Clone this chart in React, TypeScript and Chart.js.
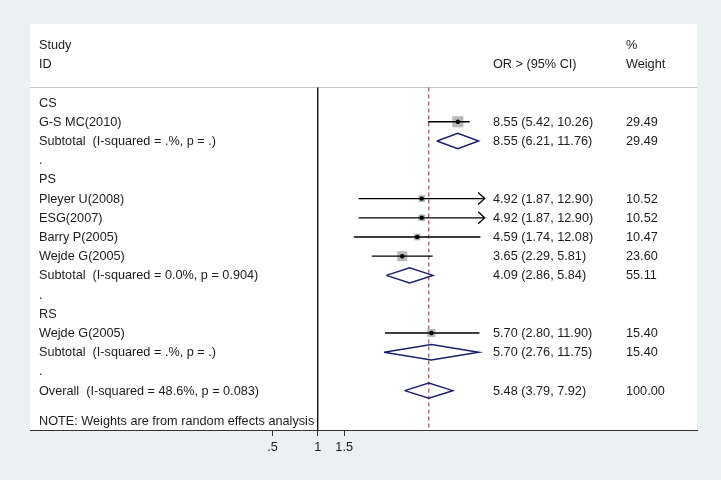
import { useEffect, useRef } from "react";
import { Chart, registerables } from "chart.js";

Chart.register(...registerables);

// ---- data ----
const rowLabels = [
  "CS",
  "G-S MC(2010)",
  "Subtotal  (I-squared = .%, p = .)",
  ".",
  "PS",
  "Pleyer U(2008)",
  "ESG(2007)",
  "Barry P(2005)",
  "Wejde G(2005)",
  "Subtotal  (I-squared = 0.0%, p = 0.904)",
  ".",
  "RS",
  "Wejde G(2005)",
  "Subtotal  (I-squared = .%, p = .)",
  ".",
  "Overall  (I-squared = 48.6%, p = 0.083)",
];

const studyRows = [1, 5, 6, 7, 8, 12];
const studyOR = [8.55, 4.92, 4.92, 4.59, 3.65, 5.7];
const studyLo = [5.42, 1.87, 1.87, 1.74, 2.29, 2.8];
const studyHi = [10.26, 12.9, 12.9, 12.08, 5.81, 11.9];
const studyWeight = [29.49, 10.52, 10.52, 10.47, 23.6, 15.4];

const poolRows = [2, 9, 13, 15];
const poolOR = [8.55, 4.09, 5.7, 5.48];
const poolLo = [6.21, 2.86, 2.76, 3.79];
const poolHi = [11.76, 5.84, 11.75, 7.92];
const poolWeight = [29.49, 55.11, 15.4, 100.0];

const overallOR = 5.48;
const arrowCutoff = 12.5;

const tickValues = [0.5, 1, 1.5];
const tickLabels = [".5", "1", "1.5"];

const headerLeft = ["Study", "ID"];
const headerEst = "OR > (95% CI)";
const headerWeight = ["%", "Weight"];
const noteText = "NOTE: Weights are from random effects analysis";

// ---- styles ----
const FAMILY = '"Liberation Sans", Arial, Helvetica, sans-serif';
const FONT = "12.7px " + FAMILY;
const TEXT = "#1c1c1c";
const NAVY = "#1e1e6e";
const BG = "#e9f1f3";

const fmt = (v: number) => v.toFixed(2);

export default function App() {
  const ref = useRef<HTMLCanvasElement | null>(null);

  useEffect(() => {
    const canvas = ref.current;
    if (!canvas) return;

    const datasets: any[] = [];

    // gray weight squares
    datasets.push({
      label: "weights",
      data: studyOR.map((v, i) => ({ x: v, y: studyRows[i] })),
      showLine: false,
      pointStyle: "rect",
      pointRadius: studyWeight.map((w) => 1.45 * Math.sqrt(w)),
      backgroundColor: "#b8b8b8",
      borderWidth: 0,
      order: 3,
    });

    // CI lines
    studyOR.forEach((_, i) => {
      datasets.push({
        label: "ci" + i,
        data: [
          { x: studyLo[i], y: studyRows[i] },
          { x: studyHi[i], y: studyRows[i] },
        ],
        showLine: true,
        borderColor: "#000",
        borderWidth: 1.3,
        pointRadius: 0,
        order: 2,
      });
    });

    // point estimates
    datasets.push({
      label: "est",
      data: studyOR.map((v, i) => ({ x: v, y: studyRows[i] })),
      showLine: false,
      pointStyle: "circle",
      pointRadius: 2.2,
      backgroundColor: "#000",
      borderWidth: 0,
      order: 1,
    });

    // pooled diamonds
    const h = 0.4;
    poolOR.forEach((v, i) => {
      const r = poolRows[i];
      datasets.push({
        label: "pool" + i,
        data: [
          { x: poolLo[i], y: r },
          { x: v, y: r - h },
          { x: poolHi[i], y: r },
          { x: v, y: r + h },
          { x: poolLo[i], y: r },
        ],
        showLine: true,
        fill: false,
        borderColor: NAVY,
        borderWidth: 1.5,
        borderJoinStyle: "miter",
        tension: 0,
        pointRadius: 0,
        order: 1,
      });
    });

    const decor = {
      id: "forestDecor",
      beforeDraw(chart: any) {
        const { ctx, chartArea: a, width, height } = chart;
        ctx.save();
        ctx.fillStyle = BG;
        ctx.fillRect(0, 0, width, height);
        ctx.fillStyle = "#ffffff";
        ctx.fillRect(a.left, a.top, a.right - a.left, a.bottom - a.top);
        ctx.restore();
      },
      beforeDatasetsDraw(chart: any) {
        const { ctx, chartArea: a, scales } = chart;
        const x = scales.x;
        const y = scales.y;
        const hy = Math.round(y.getPixelForValue(-0.8)) + 0.5;
        ctx.save();
        // header separator
        ctx.strokeStyle = "#c4c4c4";
        ctx.lineWidth = 1;
        ctx.beginPath();
        ctx.moveTo(a.left, hy);
        ctx.lineTo(a.right, hy);
        ctx.stroke();
        // null line
        const x1 = x.getPixelForValue(1);
        ctx.strokeStyle = "#111";
        ctx.lineWidth = 1.4;
        ctx.beginPath();
        ctx.moveTo(x1, hy);
        ctx.lineTo(x1, a.bottom);
        ctx.stroke();
        // overall dashed line
        const xo = x.getPixelForValue(overallOR);
        ctx.strokeStyle = "#a0505a";
        ctx.lineWidth = 1.2;
        ctx.setLineDash([4, 3]);
        ctx.beginPath();
        ctx.moveTo(xo, hy);
        ctx.lineTo(xo, a.bottom);
        ctx.stroke();
        ctx.restore();
      },
      afterDatasetsDraw(chart: any) {
        const { ctx, chartArea: a, scales } = chart;
        const x = scales.x;
        const y = scales.y;
        ctx.save();
        // arrows for truncated CIs
        ctx.strokeStyle = "#000";
        ctx.lineWidth = 1.3;
        studyHi.forEach((hi, i) => {
          if (hi <= arrowCutoff) return;
          const px = x.getPixelForValue(hi);
          const py = y.getPixelForValue(studyRows[i]);
          ctx.beginPath();
          ctx.moveTo(px - 6.5, py - 6);
          ctx.lineTo(px, py);
          ctx.lineTo(px - 6.5, py + 6);
          ctx.stroke();
        });

        ctx.font = FONT;
        ctx.fillStyle = TEXT;
        ctx.textBaseline = "middle";
        ctx.textAlign = "left";
        const lx = a.left + 9;
        const ex = a.left + 463;
        const wx = a.left + 596;
        const ty = (r: number) => y.getPixelForValue(r) + 0.5;

        // headers
        headerLeft.forEach((t, k) => ctx.fillText(t, lx, ty(-3 + k)));
        ctx.fillText(headerEst, ex, ty(-2));
        headerWeight.forEach((t, k) => ctx.fillText(t, wx, ty(-3 + k)));

        // row labels
        rowLabels.forEach((t, r) => ctx.fillText(t, lx, ty(r)));

        // study values
        studyOR.forEach((v, i) => {
          const yy = ty(studyRows[i]);
          ctx.fillText(`${fmt(v)} (${fmt(studyLo[i])}, ${fmt(studyHi[i])})`, ex, yy);
          ctx.fillText(fmt(studyWeight[i]), wx, yy);
        });
        poolOR.forEach((v, i) => {
          const yy = ty(poolRows[i]);
          ctx.fillText(`${fmt(v)} (${fmt(poolLo[i])}, ${fmt(poolHi[i])})`, ex, yy);
          ctx.fillText(fmt(poolWeight[i]), wx, yy);
        });

        ctx.fillText(noteText, lx, ty(16.6));
        ctx.restore();
      },
    };

    const chart = new Chart(canvas, {
      type: "scatter",
      data: { datasets },
      options: {
        animation: false,
        responsive: false,
        devicePixelRatio: 1,
        events: [],
        layout: { padding: { left: 30, top: 24, right: 24, bottom: 0 } },
        plugins: {
          legend: { display: false },
          tooltip: { enabled: false },
          title: { display: false },
        },
        scales: {
          x: {
            type: "logarithmic",
            min: 0.0122,
            max: 333.3,
            position: "bottom",
            border: { display: true, color: "#333", width: 1 },
            grid: {
              display: true,
              drawOnChartArea: false,
              drawTicks: true,
              tickLength: 6,
              color: "#333",
            },
            ticks: {
              autoSkip: false,
              maxRotation: 0,
              padding: 4,
              color: TEXT,
              font: { family: FAMILY, size: 12.7 },
              callback: (value: any) => {
                const k = tickValues.indexOf(Number(value));
                return k >= 0 ? tickLabels[k] : "";
              },
            },
            afterBuildTicks: (scale: any) => {
              scale.ticks = tickValues.map((v) => ({ value: v }));
            },
            afterFit: (scale: any) => {
              scale.height = 50;
            },
          },
          y: {
            type: "linear",
            reverse: true,
            min: -4.09,
            max: 17.05,
            display: false,
          },
        },
      },
      plugins: [decor],
    } as any);

    return () => chart.destroy();
  }, []);

  return (
    <div style={{ position: "fixed", left: 0, top: 0, width: 721, height: 480 }}>
      <canvas ref={ref} width={721} height={480} />
    </div>
  );
}
